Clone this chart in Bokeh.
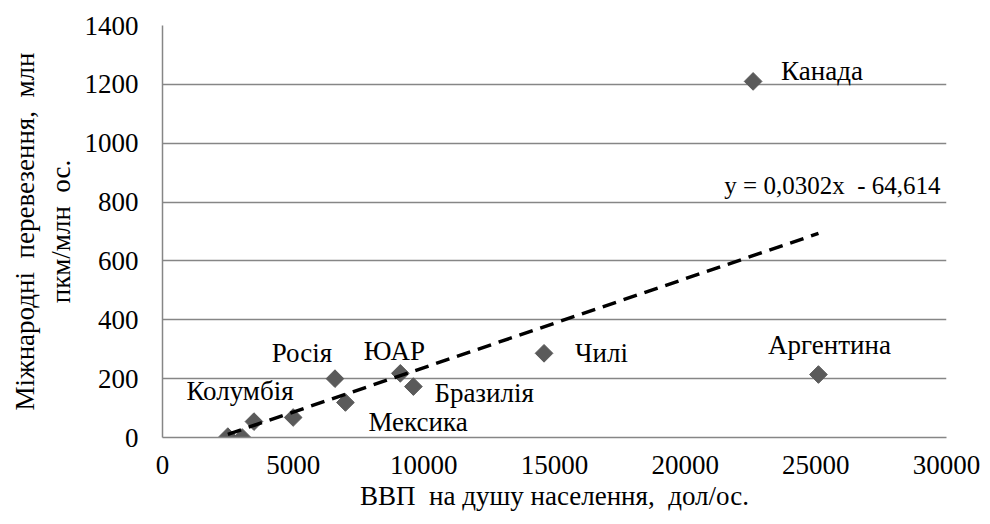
import numpy as np
from bokeh.plotting import figure
from bokeh.models import ColumnDataSource, Range1d, FixedTicker, Label
from bokeh.core.properties import value
from bokeh.embed import file_html
from bokeh.resources import INLINE

# ---- data ----
countries = ["Канада", "Аргентина", "Чилі", "Росія", "ЮАР", "Бразилія",
             "Мексика", "", "Колумбія", "", ""]
gdp = [22600, 25100, 14600, 6600, 9100, 9600, 7000, 5000, 3500, 2500, 3050]
traffic = [1210, 214, 286, 200, 218, 173, 119, 68, 54, 3, 0]

slope = 0.0302
intercept = -64.614
equation = "y = 0,0302x \u00a0- 64,614"

x_title = "ВВП \u00a0на душу населення, \u00a0дол/ос."
y_title = "Міжнародні \u00a0перевезення, \u00a0млн\nпкм/млн \u00a0ос."

x_ticks = [0, 5000, 10000, 15000, 20000, 25000, 30000]
y_ticks = [0, 200, 400, 600, 800, 1000, 1200, 1400]

# label layout (screen px offsets)
lab_dx = [28, 11, 31, -33, -6, 21, 23, 0, -14, 0, 0]
lab_dy = [-10, -30, 0, -26, -22, 6, 20, 0, -31, 0, 0]
lab_align = ["left", "center", "left", "center", "center", "left", "left",
             "center", "center", "center", "center"]

FONT = "Times New Roman"
GRID = "#868686"

p = figure(frame_width=784, frame_height=412, output_backend="svg",
           toolbar_location=None,
           x_range=Range1d(0, 30000), y_range=Range1d(0, 1400),
           min_border_left=162, min_border_right=39, min_border_top=25,
           min_border_bottom=83)
p.outline_line_color = None
p.background_fill_color = "white"
p.border_fill_color = "white"

p.xgrid.grid_line_color = None
p.ygrid.grid_line_color = GRID
p.ygrid.grid_line_width = 1.5
p.ygrid.ticker = FixedTicker(ticks=y_ticks)

for ax in (p.xaxis[0], p.yaxis[0]):
    ax.axis_line_color = GRID
    ax.axis_line_width = 1.5
    ax.major_tick_line_color = None
    ax.minor_tick_line_color = None
    ax.major_tick_out = 0
    ax.major_tick_in = 0
    ax.major_label_text_font = FONT
    ax.major_label_text_font_size = "27px"
    ax.major_label_text_color = "black"
    ax.axis_label_text_font = FONT
    ax.axis_label_text_font_size = "27px"
    ax.axis_label_text_font_style = "normal"
    ax.axis_label_text_color = "black"

p.xaxis[0].ticker = FixedTicker(ticks=x_ticks)
p.yaxis[0].ticker = FixedTicker(ticks=y_ticks)
p.xaxis[0].major_label_standoff = 18
p.yaxis[0].major_label_standoff = 24
p.xaxis[0].axis_label = x_title
p.yaxis[0].axis_label = y_title
p.xaxis[0].axis_label_standoff = 4
p.yaxis[0].axis_label_standoff = 6

src = ColumnDataSource(dict(x=gdp, y=traffic, name=countries, dx=lab_dx,
                            dy=lab_dy, align=lab_align))

p.scatter("x", "y", source=src, marker="square", angle=np.pi / 4, size=12.5,
          fill_color="#5a5a5a", line_color="#5a5a5a")

x0, x1 = min(gdp), max(gdp)
p.line([x0, x1], [slope * x0 + intercept, slope * x1 + intercept],
       line_color="black", line_width=3.5, line_dash="14 8")

p.text("x", "y", text="name", source=src, x_offset="dx", y_offset="dy",
       text_align="align", text_baseline="middle",
       text_font=value(FONT), text_font_size="27px", text_color="black")

p.add_layout(Label(x=21500, y=857, text=equation, text_font=FONT,
                   text_font_size="25px", text_color="black",
                   text_baseline="middle", text_align="left"))

open("out.html", "w").write(file_html(p, INLINE))
